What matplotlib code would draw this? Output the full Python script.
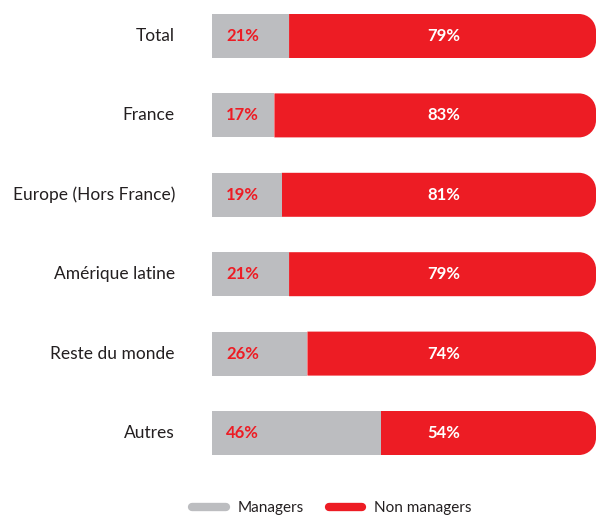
import matplotlib
matplotlib.use("Agg")
import matplotlib.pyplot as plt
from matplotlib.path import Path
from matplotlib.patches import PathPatch
from matplotlib.lines import Line2D

plt.rcParams['font.family'] = ['Lato', 'DejaVu Sans']

categories = ["Total", "France", "Europe (Hors France)", "Amérique latine",
              "Reste du monde", "Autres"]
managers = [21, 17, 19, 21, 26, 46]
non_managers = [79, 83, 81, 79, 74, 54]

GRAY = "#BCBDC0"
RED = "#ED1C24"
TEXT = "#231F20"

W, H = 596, 515
fig = plt.figure(figsize=(W / 100, H / 100), dpi=100)
# axes spans x pixels 212..596 and y pixels 0..475
ax = fig.add_axes([212 / W, 40 / H, 384 / W, 475 / H])
unit_px = 367 / 100.0          # pixels per percent
ax.set_xlim(0, 384 / unit_px)
row_px = 79.4
ax.set_ylim((475 - 36) / row_px, -36 / row_px)
ax.axis("off")

bar_h = 44 / row_px
cap_x = 17 / unit_px            # rounded end, horizontal radius
cap_y = 17 / row_px             # rounded end, vertical radius
k = 0.5523


def rounded_right(x0, x1, yc, h, rx, ry):
    top, bot = yc - h / 2, yc + h / 2
    verts = [
        (x0, top), (x1 - rx, top),
        (x1 - rx + k * rx, top), (x1, top + ry - k * ry), (x1, top + ry),
        (x1, bot - ry),
        (x1, bot - ry + k * ry), (x1 - rx + k * rx, bot), (x1 - rx, bot),
        (x0, bot), (x0, top),
    ]
    codes = [Path.MOVETO, Path.LINETO,
             Path.CURVE4, Path.CURVE4, Path.CURVE4,
             Path.LINETO,
             Path.CURVE4, Path.CURVE4, Path.CURVE4,
             Path.LINETO, Path.CLOSEPOLY]
    return Path(verts, codes)


for i, (cat, m, n) in enumerate(zip(categories, managers, non_managers)):
    end = m + n + cap_x
    ax.add_patch(PathPatch(rounded_right(m, end, i, bar_h, cap_x, cap_y),
                           facecolor=RED, edgecolor="none"))
    ax.barh(i, m, height=bar_h, color=GRAY, edgecolor="none")
    ax.text(3.8, i, f"{m}%", color=RED, fontsize=12, fontweight="bold",
            ha="left", va="center")
    ax.text(63.2, i, f"{n}%", color="white", fontsize=12, fontweight="bold",
            ha="center", va="center")
    ax.text(-37 / unit_px, i, cat, color=TEXT, fontsize=12.5,
            ha="right", va="center", clip_on=False)

handles = [Line2D([0], [0], color=GRAY, lw=6, solid_capstyle="round"),
           Line2D([0], [0], color=RED, lw=6, solid_capstyle="round")]
fig.legend(handles, ["Managers", "Non managers"], ncol=2, frameon=False,
           loc="center", bbox_to_anchor=(332 / W, 1 - 508 / H),
           prop={"size": 11},
           handlelength=2.2, columnspacing=1.6, handletextpad=0.8,
           labelcolor=TEXT)

fig.savefig("out.png", dpi=100)
